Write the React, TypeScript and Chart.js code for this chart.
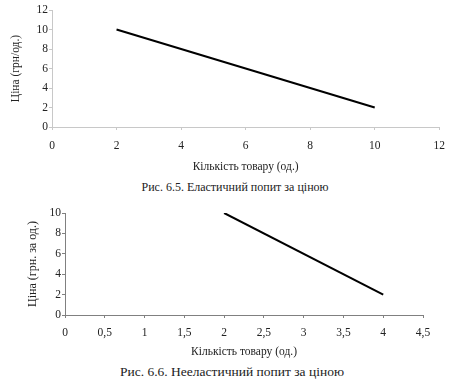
import React, { useEffect, useRef } from "react";
import { Chart, registerables } from "chart.js";

Chart.register(...registerables);

// Chart 6.5 — elastic demand
const elasticQty = [2, 10];
const elasticPrice = [10, 2];
const elasticXTicks = [0, 2, 4, 6, 8, 10, 12];
const elasticYTicks = [0, 2, 4, 6, 8, 10, 12];

// Chart 6.6 — inelastic demand
const inelasticQty = [2, 4];
const inelasticPrice = [10, 2];
const inelasticXTicks = [0, 0.5, 1, 1.5, 2, 2.5, 3, 3.5, 4, 4.5];
const inelasticYTicks = [0, 2, 4, 6, 8, 10];

const xTitle = "Кількість товару (од.)";
const yTitle1 = "Ціна (грн/од.)";
const yTitle2 = "Ціна (грн. за од.)";
const caption1 = "Рис. 6.5. Еластичний попит за ціною";
const caption2 = "Рис. 6.6. Нееластичний попит за ціною";

const FONT = "'Liberation Serif', 'DejaVu Serif', serif";
const TEXT = "#222";

type Cfg = {
  xs: number[];
  ys: number[];
  xTicks: number[];
  yTicks: number[];
  yTitle: string;
  yTitleSize: number;
  width: number;
  height: number;
  pad: { top: number; right: number; left: number; bottom: number };
  yWidth: number;
  xHeight: number;
  yTitlePad: number;
  xTickPad: number;
  axisColor: string;
};

function fmt(v: number) {
  return String(v).replace(".", ",");
}

function LineChart(p: Cfg) {
  const ref = useRef<HTMLCanvasElement | null>(null);
  useEffect(() => {
    if (!ref.current) return;
    const pts = p.xs.map((x, i) => ({ x, y: p.ys[i] }));
    const chart = new Chart(ref.current, {
      type: "line",
      data: {
        datasets: [
          {
            data: pts,
            borderColor: "#000",
            borderWidth: 2,
            pointRadius: 0,
            fill: false,
          },
        ],
      },
      options: {
        responsive: false,
        animation: false,
        layout: { padding: p.pad },
        plugins: { legend: { display: false }, tooltip: { enabled: false } },
        scales: {
          x: {
            type: "linear",
            min: p.xTicks[0],
            max: p.xTicks[p.xTicks.length - 1],
            afterBuildTicks: (s: any) => {
              s.ticks = p.xTicks.map((v) => ({ value: v }));
            },
            afterFit: (s: any) => {
              s.height = p.xHeight;
            },
            ticks: {
              callback: (v: any) => fmt(Number(v)),
              color: TEXT,
              font: { family: FONT, size: 11.5 },
              padding: p.xTickPad,
              maxRotation: 0,
              autoSkip: false,
            },
            grid: {
              drawOnChartArea: false,
              drawTicks: true,
              tickLength: 3,
              color: p.axisColor,
            },
            border: { display: true, color: p.axisColor, width: 1 },
            title: {
              display: true,
              text: xTitle,
              color: TEXT,
              font: { family: FONT, size: 11.5 },
              padding: { top: 0, bottom: 0 },
            },
          },
          y: {
            type: "linear",
            min: p.yTicks[0],
            max: p.yTicks[p.yTicks.length - 1],
            afterBuildTicks: (s: any) => {
              s.ticks = p.yTicks.map((v) => ({ value: v }));
            },
            afterFit: (s: any) => {
              s.width = p.yWidth;
            },
            ticks: {
              callback: (v: any) => fmt(Number(v)),
              color: TEXT,
              font: { family: FONT, size: 11.5 },
              padding: 1,
              autoSkip: false,
            },
            grid: {
              drawOnChartArea: false,
              drawTicks: true,
              tickLength: 3,
              color: p.axisColor,
            },
            border: { display: true, color: p.axisColor, width: 1 },
            title: {
              display: true,
              text: p.yTitle,
              color: TEXT,
              font: { family: FONT, size: p.yTitleSize },
              padding: { top: p.yTitlePad, bottom: 0 },
            },
          },
        },
      },
    } as any);
    return () => chart.destroy();
  }, []);
  return <canvas ref={ref} width={p.width} height={p.height} />;
}

const captionStyle: React.CSSProperties = {
  position: "absolute",
  left: 0,
  textAlign: "center",
  fontFamily: FONT,
  color: TEXT,
  whiteSpace: "nowrap",
};

export default function App() {
  return (
    <div
      style={{
        position: "absolute",
        left: 0,
        top: 0,
        width: 454,
        height: 379,
        background: "#fff",
        overflow: "hidden",
      }}
    >
      <div style={{ position: "absolute", left: 0, top: 0 }}>
        <LineChart
          xs={elasticQty}
          ys={elasticPrice}
          xTicks={elasticXTicks}
          yTicks={elasticYTicks}
          yTitle={yTitle1}
          yTitleSize={11.5}
          width={454}
          height={174}
          pad={{ top: 10, right: 11, left: 0, bottom: 0 }}
          yWidth={52}
          xHeight={47}
          yTitlePad={9}
          xTickPad={9}
          axisColor="#c8c8c8"
        />
      </div>
      <div
        style={{
          ...captionStyle,
          top: 180,
          width: 470,
          fontSize: 12,
          lineHeight: "14px",
        }}
      >
        {caption1}
      </div>
      <div style={{ position: "absolute", left: 0, top: 195 }}>
        <LineChart
          xs={inelasticQty}
          ys={inelasticPrice}
          xTicks={inelasticXTicks}
          yTicks={inelasticYTicks}
          yTitle={yTitle2}
          yTitleSize={12}
          width={454}
          height={164}
          pad={{ top: 18, right: 31, left: 0, bottom: 0 }}
          yWidth={65}
          xHeight={44}
          yTitlePad={26}
          xTickPad={8}
          axisColor="#808080"
        />
      </div>
      <div
        style={{
          ...captionStyle,
          top: 364,
          width: 464,
          fontSize: 13.5,
          lineHeight: "16px",
        }}
      >
        {caption2}
      </div>
    </div>
  );
}
